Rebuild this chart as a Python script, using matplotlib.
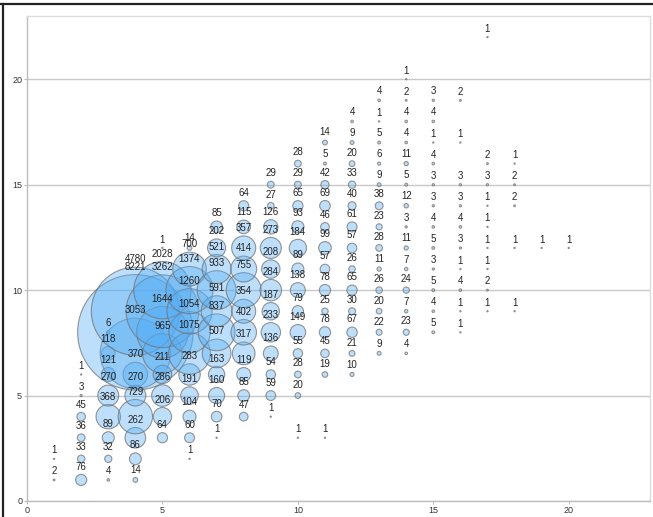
import matplotlib.pyplot as plt
import numpy as np
from matplotlib.lines import Line2D

# one entry per bubble: column x, row y, count
xs = ([1, 1] +
      [2] * 6 +
      [3] * 8 +
      [4] * 9 +
      [5] * 9 +
      [6] * 11 +
      [7] * 11 +
      [8] * 11 +
      [9] * 12 +
      [10] * 13 +
      [11] * 13 +
      [12] * 13 +
      [13] * 13 +
      [14] * 14 +
      [15] * 12 +
      [16] * 10 +
      [17] * 9 +
      [18] * 5 +
      [19, 20])

ys = ([1, 2] +
      [1, 2, 3, 4, 5, 6] +
      [1, 2, 3, 4, 5, 6, 7, 8] +
      [1, 2, 3, 4, 5, 6, 7, 8, 9] +
      [3, 4, 5, 6, 7, 8, 9, 10, 12] +
      [2, 3, 4, 5, 6, 7, 8, 9, 10, 11, 12] +
      [3, 4, 5, 6, 7, 8, 9, 10, 11, 12, 13] +
      [4, 5, 6, 7, 8, 9, 10, 11, 12, 13, 14] +
      [4, 5, 6, 7, 8, 9, 10, 11, 12, 13, 14, 15] +
      [3, 5, 6, 7, 8, 9, 10, 11, 12, 13, 14, 15, 16] +
      [3, 6, 7, 8, 9, 10, 11, 12, 13, 14, 15, 16, 17] +
      [6, 7, 8, 9, 10, 11, 12, 13, 14, 15, 16, 17, 18] +
      [7, 8, 9, 10, 11, 12, 13, 14, 15, 16, 17, 18, 19] +
      [7, 8, 9, 10, 11, 12, 13, 14, 15, 16, 17, 18, 19, 20] +
      [8, 9, 10, 11, 12, 13, 14, 15, 16, 17, 18, 19] +
      [8, 9, 10, 11, 12, 13, 14, 15, 17, 19] +
      [9, 10, 11, 12, 13, 14, 15, 16, 22] +
      [9, 12, 14, 15, 16] +
      [12, 12])

counts = ([2, 1] +
          [76, 33, 36, 45, 3, 1] +
          [4, 32, 89, 368, 270, 121, 118, 6] +
          [14, 86, 262, 729, 270, 370, 3053, 8221, 4780] +
          [64, 206, 286, 211, 965, 1644, 3262, 2028, 1] +
          [1, 60, 104, 191, 283, 1075, 1054, 1260, 1374, 700, 14] +
          [1, 70, 160, 163, 507, 837, 591, 933, 521, 202, 85] +
          [47, 85, 119, 317, 402, 354, 755, 414, 357, 115, 64] +
          [1, 59, 54, 136, 233, 187, 284, 208, 273, 126, 27, 29] +
          [1, 20, 28, 55, 149, 79, 138, 89, 184, 93, 65, 29, 28] +
          [1, 19, 45, 78, 25, 78, 57, 99, 46, 69, 42, 5, 14] +
          [10, 21, 67, 30, 65, 26, 57, 61, 40, 33, 20, 9, 4] +
          [9, 22, 20, 26, 11, 28, 23, 38, 9, 6, 5, 1, 4] +
          [4, 23, 7, 24, 7, 11, 3, 12, 5, 11, 4, 4, 2, 1] +
          [5, 4, 5, 3, 5, 4, 3, 3, 4, 1, 4, 3] +
          [1, 1, 4, 1, 3, 4, 3, 3, 1, 2] +
          [1, 2, 1, 1, 1, 1, 3, 2, 1] +
          [1, 1, 2, 2, 1] +
          [1, 1])

plt.rcParams['font.family'] = ['Liberation Sans', 'DejaVu Sans']

fig = plt.figure(figsize=(6.53, 5.17), dpi=100)
ax = fig.add_axes([27 / 653, 16 / 517, 623 / 653, 485 / 517])

sizes = 0.84 * np.array(counts)   # bubble area follows the count
ax.scatter(xs, ys, s=sizes, facecolor=(0.33, 0.68, 0.96, 0.38),
           edgecolor=(0.45, 0.45, 0.45, 0.75), linewidth=0.8, zorder=3)

# count written just above each bubble
for x, y, n, s in zip(xs, ys, counts, sizes):
    off = np.sqrt(s) / 2 + 5.6
    ax.annotate(str(n), xy=(x, y), xytext=(0, off), textcoords='offset points',
                ha='center', va='center', fontsize=7, color='#222222', zorder=5)

ax.set_xlim(0, 23)
ax.set_ylim(0, 23)
ax.set_xticks([0, 5, 10, 15, 20])
ax.set_yticks([0, 5, 10, 15, 20])
ax.grid(axis='y', color='#c8c8c8', linewidth=1.0, zorder=0)
ax.set_axisbelow(True)
for side in ['left', 'bottom']:
    ax.spines[side].set_color('#bdbdbd')
    ax.spines[side].set_linewidth(1.0)
for side in ['top', 'right']:
    ax.spines[side].set_color('#dcdcdc')
    ax.spines[side].set_linewidth(1.0)
ax.tick_params(length=2, width=0.8, color='#bdbdbd', labelsize=6.5,
               labelcolor='#333333', pad=1.5)

# dark border along the top and left edge
fig.add_artist(Line2D([0, 1], [1 - 4 / 517, 1 - 4 / 517], color='#222222', linewidth=1.6))
fig.add_artist(Line2D([3 / 653, 3 / 653], [0, 1 - 4 / 517], color='#222222', linewidth=1.6))

fig.savefig('out.png', dpi=100)
